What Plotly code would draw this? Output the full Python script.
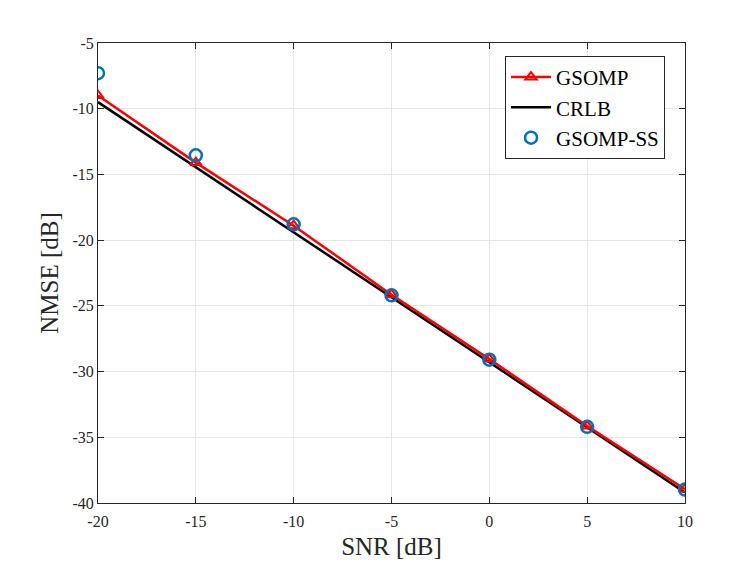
import plotly.graph_objects as go

snr = [-20, -15, -10, -5, 0, 5, 10]
gsomp = [-9.0, -14.1, -18.9, -24.15, -29.05, -34.15, -38.95]
crlb = [-9.5, -14.45, -19.4, -24.4, -29.35, -34.3, -39.2]
gsomp_ss = [-7.3, -13.55, -18.8, -24.2, -29.1, -34.2, -38.98]

xticks = [-20, -15, -10, -5, 0, 5, 10]
yticks = [-40, -35, -30, -25, -20, -15, -10, -5]

font = "Liberation Serif"
fig = go.Figure()
fig.add_trace(go.Scatter(x=snr, y=crlb, mode="lines", name="CRLB",
                         line=dict(color="black", width=2.5), legendrank=2))
fig.add_trace(go.Scatter(x=snr, y=gsomp, mode="lines+markers", name="GSOMP",
                         line=dict(color="#ff0000", width=2.5),
                         marker=dict(symbol="triangle-up-open", size=10,
                                     line=dict(color="#ff0000", width=2)),
                         legendrank=1))
fig.add_trace(go.Scatter(x=snr, y=gsomp_ss, mode="markers", name="GSOMP-SS",
                         marker=dict(symbol="circle-open", size=12,
                                     color="#0072BD",
                                     line=dict(color="#0072BD", width=2.5)),
                         legendrank=3))

axis_common = dict(showline=True, linecolor="#262626", linewidth=1,
                   mirror="ticks", ticks="inside", ticklen=6,
                   tickcolor="#262626", showgrid=True, gridcolor="#e6e6e6",
                   gridwidth=1, zeroline=False,
                   tickfont=dict(family=font, size=16, color="#262626"))

fig.update_xaxes(range=[-20, 10], tickvals=xticks,
                 ticktext=[str(v) for v in xticks],
                 ticklabelstandoff=4,
                 title=dict(text="SNR [dB]", font=dict(family=font, size=25, color="#262626"),
                            standoff=8),
                 **axis_common)
fig.update_yaxes(range=[-40, -5], tickvals=yticks,
                 ticktext=[str(v) for v in yticks],
                 title=dict(text="NMSE [dB]", font=dict(family=font, size=25, color="#262626"),
                            standoff=6),
                 **axis_common)

fig.update_layout(
    width=756, height=567,
    margin=dict(l=90, r=79, t=35, b=72),
    paper_bgcolor="white", plot_bgcolor="white",
    showlegend=True,
    legend=dict(x=0.966, y=0.972, xanchor="right", yanchor="top",
                bgcolor="white", bordercolor="#262626", borderwidth=1,
                font=dict(family=font, size=21, color="black"),
                itemwidth=40, tracegroupgap=0),
)

fig.write_html("out.html")
